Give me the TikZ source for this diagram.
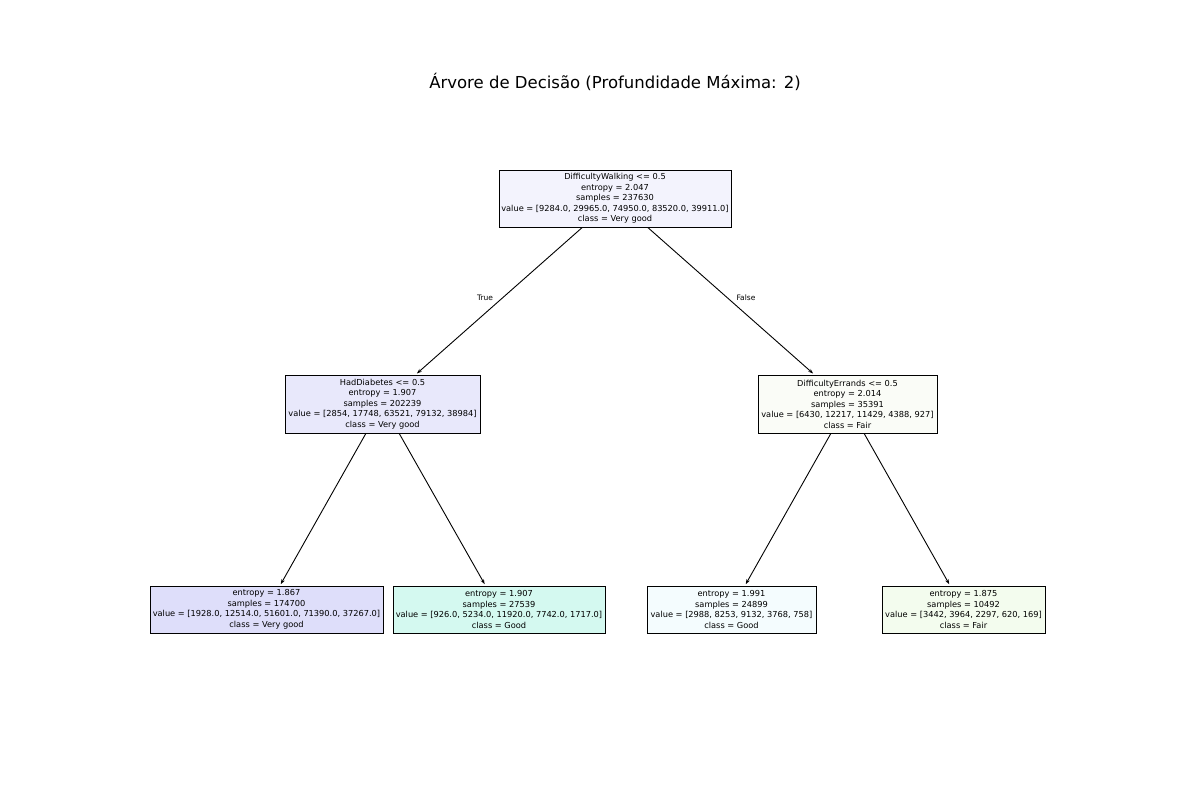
\documentclass[tikz,border=0pt]{standalone}
\usepackage{fontspec}
\setmainfont{DejaVu Sans}
\usetikzlibrary{arrows.meta}
\definecolor{cRoot}{RGB}{243,243,253}
\definecolor{cHD}{RGB}{232,232,251}
\definecolor{cDE}{RGB}{250,252,247}
\definecolor{cLa}{RGB}{222,222,250}
\definecolor{cLb}{RGB}{212,249,240}
\definecolor{cLc}{RGB}{244,252,254}
\definecolor{cLd}{RGB}{243,252,238}
\tikzset{
  treebox/.style={draw=black, line width=1pt, inner xsep=2pt, inner ysep=2.5pt, align=center,
    font=\fontsize{8.25}{10.5}\selectfont},
  edge/.style={line width=0.9pt, -{Stealth[length=5pt,width=3.6pt]}, shorten >=1.5pt},
  elabel/.style={font=\fontsize{7.5}{9}\selectfont}
}
\begin{document}
\begin{tikzpicture}[x=1pt,y=-1pt]
\useasboundingbox[fill=white] (0,0) rectangle (1200,800);
\node[font=\fontsize{16.5}{19}\selectfont] (title) at (615,82) {Árvore de Decisão (Profundidade Máxima: 2)};
\node[treebox, fill=cRoot, minimum width=232pt, minimum height=57pt] (root) at (615,198.5)
  {DifficultyWalking <= 0.5\\entropy = 2.047\\samples = 237630\\value = [9284.0, 29965.0, 74950.0, 83520.0, 39911.0]\\class = Very good};
\node[treebox, fill=cHD, minimum width=195pt, minimum height=58pt] (hd) at (382.5,404)
  {HadDiabetes <= 0.5\\entropy = 1.907\\samples = 202239\\value = [2854, 17748, 63521, 79132, 38984]\\class = Very good};
\node[treebox, fill=cDE, minimum width=179pt, minimum height=58pt] (de) at (847.5,404)
  {DifficultyErrands <= 0.5\\entropy = 2.014\\samples = 35391\\value = [6430, 12217, 11429, 4388, 927]\\class = Fair};
\node[treebox, fill=cLa, minimum width=233pt, minimum height=47pt] (la) at (266.5,609.5)
  {entropy = 1.867\\samples = 174700\\value = [1928.0, 12514.0, 51601.0, 71390.0, 37267.0]\\class = Very good};
\node[treebox, fill=cLb, minimum width=212pt, minimum height=47pt] (lb) at (499,609.5)
  {entropy = 1.907\\samples = 27539\\value = [926.0, 5234.0, 11920.0, 7742.0, 1717.0]\\class = Good};
\node[treebox, fill=cLc, minimum width=169pt, minimum height=47pt] (lc) at (731.5,609.5)
  {entropy = 1.991\\samples = 24899\\value = [2988, 8253, 9132, 3768, 758]\\class = Good};
\node[treebox, fill=cLd, minimum width=163pt, minimum height=47pt] (ld) at (963.5,609.5)
  {entropy = 1.875\\samples = 10492\\value = [3442, 3964, 2297, 620, 169]\\class = Fair};
\draw[edge] (root) -- (hd);
\draw[edge] (root) -- (de);
\draw[edge] (hd) -- (la);
\draw[edge] (hd) -- (lb);
\draw[edge] (de) -- (lc);
\draw[edge] (de) -- (ld);
\node[elabel] (tl) at (485,298) {True};
\node[elabel] (fl) at (746,298) {False};
\end{tikzpicture}
\end{document}
